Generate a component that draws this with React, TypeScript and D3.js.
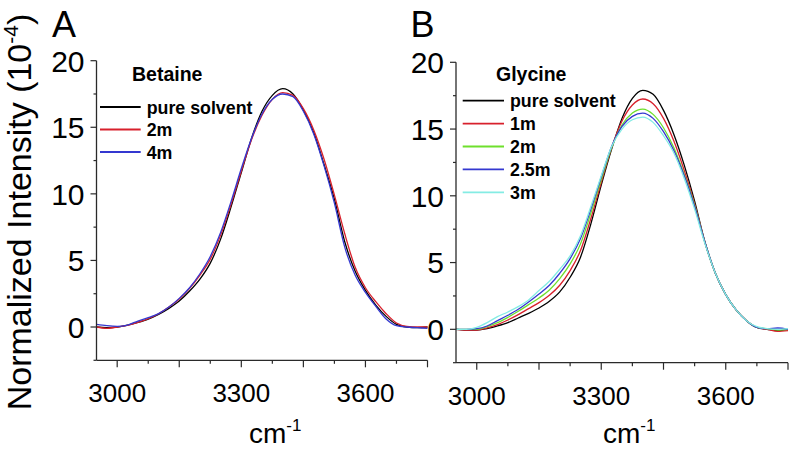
import React from "react";
import * as d3 from "d3";

const WAVENUMBERS = [2950, 2975, 3000, 3025, 3050, 3075, 3100, 3125, 3150, 3175, 3200, 3225, 3250, 3275, 3300, 3325, 3350, 3375, 3400, 3425, 3450, 3475, 3500, 3525, 3550, 3575, 3600, 3625, 3650, 3675, 3700, 3725, 3750];

// Panel A: Betaine
const A_PURE = [0.0, -0.05, 0.0, 0.15, 0.35, 0.6, 0.95, 1.4, 1.95, 2.7, 3.6, 4.8, 6.6, 9.0, 11.6, 14.2, 16.2, 17.4, 17.9, 17.5, 16.3, 14.6, 12.2, 9.6, 6.4, 4.2, 2.75, 1.65, 0.8, 0.2, 0.0, -0.05, 0.0];
const A_2M = [0.0, -0.1, 0.0, 0.12, 0.35, 0.62, 1.0, 1.5, 2.1, 2.9, 3.9, 5.1, 6.9, 9.2, 11.7, 14.1, 15.9, 17.1, 17.6, 17.4, 16.4, 14.8, 12.6, 9.9, 7.0, 4.5, 2.95, 1.9, 1.0, 0.3, 0.05, 0.0, 0.0];
const A_4M = [0.2, 0.1, 0.05, 0.15, 0.45, 0.7, 1.0, 1.5, 2.15, 2.95, 4.0, 5.3, 7.1, 9.4, 11.9, 14.2, 16.0, 17.1, 17.5, 17.3, 16.2, 14.5, 12.1, 9.3, 6.0, 3.9, 2.6, 1.55, 0.6, 0.1, 0.0, -0.05, -0.1];

// Panel B: Glycine
const B_PURE = [0.0, -0.05, -0.05, 0.05, 0.25, 0.5, 0.85, 1.2, 1.6, 2.1, 2.8, 3.9, 5.4, 7.9, 10.8, 13.5, 15.8, 17.3, 17.9, 17.6, 16.4, 14.6, 12.3, 9.6, 6.5, 4.2, 2.6, 1.45, 0.65, 0.15, 0.0, -0.1, 0.0];
const B_1M = [0.0, -0.05, -0.05, 0.1, 0.35, 0.7, 1.1, 1.55, 2.0, 2.55, 3.3, 4.4, 5.9, 8.3, 11.0, 13.6, 15.6, 16.8, 17.25, 16.9, 15.8, 14.1, 11.9, 9.4, 6.5, 4.2, 2.6, 1.45, 0.65, 0.15, 0.0, -0.15, -0.1];
const B_2M = [0.0, 0.0, 0.0, 0.2, 0.5, 0.9, 1.35, 1.85, 2.35, 2.95, 3.8, 4.9, 6.4, 8.7, 11.2, 13.6, 15.3, 16.2, 16.5, 16.1, 15.1, 13.6, 11.6, 9.3, 6.5, 4.2, 2.6, 1.45, 0.65, 0.15, 0.05, -0.05, 0.0];
const B_25M = [0.0, 0.0, 0.05, 0.25, 0.65, 1.05, 1.5, 2.05, 2.65, 3.3, 4.2, 5.3, 6.8, 9.0, 11.4, 13.7, 15.2, 15.95, 16.2, 15.8, 14.8, 13.4, 11.5, 9.2, 6.5, 4.2, 2.6, 1.45, 0.65, 0.15, 0.05, 0.1, 0.0];
const B_3M = [0.0, 0.0, 0.15, 0.5, 0.95, 1.3, 1.7, 2.2, 2.9, 3.6, 4.5, 5.5, 7.0, 9.2, 11.5, 13.7, 15.0, 15.7, 15.9, 15.5, 14.5, 13.2, 11.3, 9.0, 6.4, 4.2, 2.6, 1.45, 0.65, 0.2, 0.05, 0.0, 0.05];

const A_LABELS = ["pure solvent", "2m", "4m"];
const B_LABELS = ["pure solvent", "1m", "2m", "2.5m", "3m"];
const A_COLORS = ["#000000", "#d8202c", "#3438d0"];
const B_COLORS = ["#000000", "#d8202c", "#6ee02c", "#3438d0", "#84ece4"];

const X_TICKS_MAJOR = [3000, 3150, 3300, 3450, 3600, 3750];
const X_TICKS_MINOR = [3075, 3225, 3375, 3525, 3675];
const X_TICK_LABELS = [3000, 3300, 3600];
const Y_TICKS_MAJOR = [0, 5, 10, 15, 20];
const Y_TICKS_MINOR = [-2.5, 2.5, 7.5, 12.5, 17.5];

const FONT = "'Liberation Sans', Arial, Helvetica, sans-serif";

type PanelProps = {
  left: number;
  right: number;
  top: number;
  bottom: number;
  series: number[][];
  colors: string[];
  labels: string[];
  title: string;
  letter: string;
  letterX: number;
  legendTitleX: number;
  legendTitleY: number;
  legendLineX0: number;
  legendLineX1: number;
  legendY0: number;
  legendStep: number;
  xLabelX: number;
};

function Panel(p: PanelProps) {
  const x = d3.scaleLinear().domain([2950, 3750]).range([p.left, p.right]);
  const y = d3.scaleLinear().domain([-2.5, 20]).range([p.bottom, p.top]);
  const line = d3
    .line<number>()
    .x((_, i) => x(WAVENUMBERS[i]))
    .y((d) => y(d))
    .curve(d3.curveMonotoneX);
  const axisColor = "#2a2a2a";
  return (
    <g>
      <text x={p.letterX} y={37} fontFamily={FONT} fontSize={36} fill="#000">
        {p.letter}
      </text>
      <g>
        {p.series.map((s, i) => (
          <path key={i} d={line(s) || ""} fill="none" stroke={p.colors[i]} strokeWidth={1.3} />
        ))}
      </g>
      <line x1={p.left} x2={p.left} y1={p.top} y2={p.bottom} stroke={axisColor} strokeWidth={1.3} />
      <line x1={p.left} x2={p.right} y1={p.bottom} y2={p.bottom} stroke={axisColor} strokeWidth={1.3} />
      {Y_TICKS_MAJOR.map((t) => (
        <g key={"ym" + t}>
          <line x1={p.left - 6} x2={p.left} y1={y(t)} y2={y(t)} stroke={axisColor} strokeWidth={1.2} />
          <text
            x={p.left - 12}
            y={y(t)}
            dy="0.36em"
            textAnchor="end"
            fontFamily={FONT}
            fontSize={30}
            fill="#000"
          >
            {t}
          </text>
        </g>
      ))}
      {Y_TICKS_MINOR.map((t) => (
        <line key={"yn" + t} x1={p.left - 3} x2={p.left} y1={y(t)} y2={y(t)} stroke={axisColor} strokeWidth={1.2} />
      ))}
      {X_TICKS_MAJOR.map((t) => (
        <line key={"xm" + t} x1={x(t)} x2={x(t)} y1={p.bottom} y2={p.bottom + 7} stroke={axisColor} strokeWidth={1.2} />
      ))}
      {X_TICKS_MINOR.map((t) => (
        <line key={"xn" + t} x1={x(t)} x2={x(t)} y1={p.bottom} y2={p.bottom + 3.5} stroke={axisColor} strokeWidth={1.2} />
      ))}
      {X_TICK_LABELS.map((t) => (
        <text
          key={"xl" + t}
          x={x(t)}
          y={p.bottom + 42}
          textAnchor="middle"
          fontFamily={FONT}
          fontSize={26}
          fill="#000"
        >
          {t}
        </text>
      ))}
      <text x={p.xLabelX} y={443} fontFamily={FONT} fontSize={28} fill="#000">
        cm
        <tspan fontSize={17} dy={-12}>
          -1
        </tspan>
      </text>
      <text x={p.legendTitleX} y={p.legendTitleY} fontFamily={FONT} fontSize={19.5} fontWeight="bold" fill="#000">
        {p.title}
      </text>
      {p.labels.map((lab, i) => {
        const ly = p.legendY0 + i * p.legendStep;
        return (
          <g key={lab}>
            <line x1={p.legendLineX0} x2={p.legendLineX1} y1={ly} y2={ly} stroke={p.colors[i]} strokeWidth={1.8} />
            <text
              x={p.legendLineX1 + 6}
              y={ly + 6.5}
              fontFamily={FONT}
              fontSize={17.8}
              fontWeight="bold"
              fill="#000"
            >
              {lab}
            </text>
          </g>
        );
      })}
    </g>
  );
}

export default function App() {
  return (
    <svg
      width={793}
      height={452}
      viewBox="0 0 793 452"
      style={{ position: "absolute", left: 0, top: 0, background: "#fff" }}
    >
      <rect x={0} y={0} width={793} height={452} fill="#fff" />
      <text
        transform="translate(31,212) rotate(-90)"
        textAnchor="middle"
        fontFamily={FONT}
        fontSize={34}
        fill="#000"
      >
        Normalized Intensity (10
        <tspan fontSize={21} dy={-13}>
          -4
        </tspan>
        <tspan dy={13}>)</tspan>
      </text>
      <Panel
        left={96.5}
        right={427.5}
        top={60.7}
        bottom={360.3}
        series={[A_PURE, A_2M, A_4M]}
        colors={A_COLORS}
        labels={A_LABELS}
        title="Betaine"
        letter="A"
        letterX={52}
        legendTitleX={132}
        legendTitleY={80.7}
        legendLineX0={100}
        legendLineX1={140.7}
        legendY0={107}
        legendStep={22.5}
        xLabelX={249}
      />
      <Panel
        left={456}
        right={788}
        top={62.3}
        bottom={362.7}
        series={[B_PURE, B_1M, B_2M, B_25M, B_3M]}
        colors={B_COLORS}
        labels={B_LABELS}
        title="Glycine"
        letter="B"
        letterX={410.5}
        legendTitleX={496}
        legendTitleY={81}
        legendLineX0={462.7}
        legendLineX1={504}
        legendY0={100.7}
        legendStep={22.9}
        xLabelX={603}
      />
    </svg>
  );
}
